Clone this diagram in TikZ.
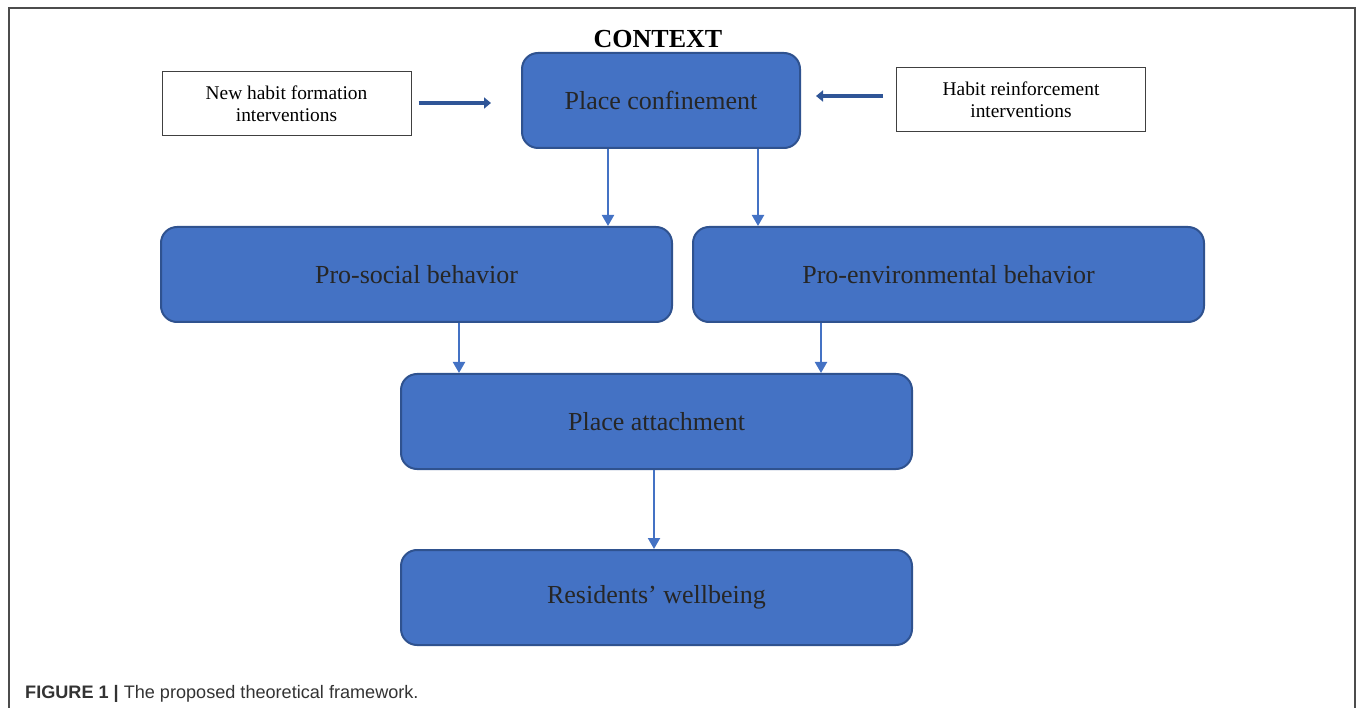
\documentclass[tikz,border=0pt]{standalone}
\usepackage{fontspec}
\setmainfont{Liberation Serif}
\newfontfamily\capfont{Liberation Sans}
\usetikzlibrary{positioning}
\usetikzlibrary{arrows.meta}

\definecolor{boxblue}{HTML}{4472C4}
\definecolor{boxedge}{HTML}{2F528F}
\definecolor{fatblue}{HTML}{2F5597}

\tikzset{
  stage/.style={draw=boxedge, line width=2pt, fill=boxblue, rounded corners=16pt,
    minimum width=511pt, minimum height=95pt, text=black!85,
    font=\fontsize{26}{30}\selectfont},
  intervention/.style={draw=black!75, line width=1pt, fill=white,
    minimum width=249pt, minimum height=64pt, align=center,
    font=\fontsize{19.4}{22}\selectfont},
  flow/.style={draw=boxblue, line width=2pt, -{Triangle[length=11pt,width=12pt]}},
  push/.style={draw=fatblue, line width=4.5pt, -{Triangle[length=7pt,width=11pt]}},
}

\begin{document}
\begin{tikzpicture}[x=1pt, y=-1pt]
    \useasboundingbox (0,0) rectangle (1357,708);

    % Frame
    \draw[black!70, line width=1.5pt] (9,708) -- (9,8) -- (1355,8) -- (1355,708);

    % Define nodes
    \node[stage, minimum width=278pt] (pc) at (661,100.5) {Place confinement};
    \node[anchor=base, font=\bfseries\fontsize{26}{30}\selectfont] (ctx) at (658,48) {CONTEXT};
    \node[intervention] (nhf) at (286.5,104) {New habit formation\\interventions};
    \node[intervention] (hri) at (1021,99.5) {Habit reinforcement\\interventions};
    \node[stage] (ps) at (416.5,274.5) {Pro-social behavior};
    \node[stage] (pe) at (948.5,274.5) {Pro-environmental behavior};
    \node[stage] (pa) at (656.5,421.5) {Place attachment};
    \node[stage, below=79pt of pa] (rw) {Residents’ wellbeing};

    % Connect the nodes
    \draw[push] ([xshift=7pt,yshift=1pt]nhf.east) -- ([xshift=-30pt,yshift=-2.5pt]pc.west);
    \draw[push] ([xshift=-13pt,yshift=3.5pt]hri.west) -- ([xshift=15pt,yshift=4.5pt]pc.east);
    \draw[flow] ([xshift=-53pt]pc.south) -- ([xshift=-53pt]pc.south |- ps.north);
    \draw[flow] ([xshift=97pt]pc.south) -- ([xshift=97pt]pc.south |- pe.north);
    \draw[flow] ([xshift=42.5pt]ps.south) -- ([xshift=42.5pt]ps.south |- pa.north);
    \draw[flow] ([xshift=-127.5pt]pe.south) -- ([xshift=-127.5pt]pe.south |- pa.north);
    \draw[flow] ([xshift=-2.5pt]pa.south) -- ([xshift=-2.5pt]rw.north);

    % Caption
    \node[anchor=base west, inner sep=0pt, text=black!80,
      font=\capfont\fontsize{18.1}{22}\selectfont] (cap) at (25,698)
      {\textbf{FIGURE 1 |} The proposed theoretical framework.};
\end{tikzpicture}
\end{document}
